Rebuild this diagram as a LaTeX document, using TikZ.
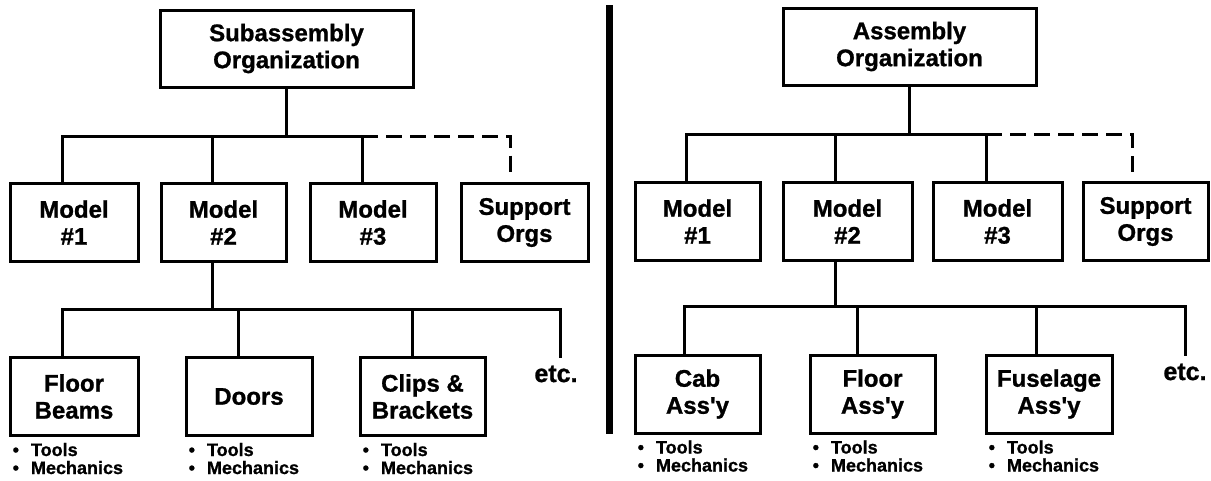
\documentclass[tikz,border=0pt]{standalone}
\usepackage{fontspec}
\setmainfont[BoldFeatures={FakeBold=1}]{Liberation Sans}
\newcommand\tmlist[1]{%
  \node[bul] (#1t) at ([xshift=4pt,yshift=-19pt]#1.south west) {•\hspace{12pt}Tools};
  \node[bul] (#1m) at ([xshift=4pt,yshift=-37pt]#1.south west) {•\hspace{12pt}Mechanics};}
\begin{document}
\begin{tikzpicture}[x=1pt,y=-1pt,
  box/.style={draw,line width=3pt,inner sep=0pt,align=center,minimum height=78pt,
    font=\bfseries\fontsize{24}{27}\selectfont},
  ln/.style={line width=3pt},
  dsh/.style={line width=3pt,dash pattern=on 16pt off 8pt},
  bul/.style={anchor=base west,inner sep=0pt,font=\bfseries\fontsize{18}{19}\selectfont},
  etcs/.style={inner sep=0pt,font=\bfseries\fontsize{25}{28}\selectfont}]
\useasboundingbox (0,0) rectangle (1211,480);
\fill[white] (0,0) rectangle (1211,480);

% divider
\fill[black] (606,5) rectangle (613,434);

% ---------------- left panel ----------------
\node[box,minimum width=253pt,minimum height=77pt] (topL) at (286.5,48.5) {Subassembly\\Organization};
\node[box,minimum width=128pt] (m1L) at (74,222.5) {Model\\\#1};
\node[box,minimum width=125pt] (m2L) at (223.5,222.5) {Model\\\#2};
\node[box,minimum width=126pt] (m3L) at (373,222.5) {Model\\\#3};
\node[box,minimum width=127pt] (sL) at (524.5,222.5) {Support\\Orgs};
\node[box,minimum width=128pt] (fbL) at (74,396.5) {Floor\\Beams};
\node[box,minimum width=126pt] (doL) at (249,396.5) {Doors};
\node[box,minimum width=125pt] (clL) at (422.5,396.5) {Clips \&\\Brackets};
\node[etcs] (etcL) at (556,374) {etc.};
\tmlist{fbL}
\tmlist{doL}
\tmlist{clL}

\coordinate (barL) at (0,136);
\coordinate (bar2L) at (0,309);
\coordinate (a1L) at ([xshift=-12pt]m1L.north);
\coordinate (a2L) at ([xshift=-11pt]m2L.north);
\coordinate (a3L) at ([xshift=-11pt]m3L.north);
\coordinate (a4L) at ([xshift=-14pt,yshift=9pt]sL.north);
\draw[ln] (topL.south) -- (topL.south |- barL);
\draw[ln] (a1L) -- (a1L |- barL) -- (a3L |- barL) -- (a3L);
\draw[ln] (a2L) -- (a2L |- barL);
\draw[dsh] (a3L |- barL) -- (a4L |- barL) -- (a4L);

\coordinate (c0L) at ([xshift=-11pt]m2L.south);
\coordinate (c1L) at ([xshift=-12pt]fbL.north);
\coordinate (c2L) at ([xshift=-11pt]doL.north);
\coordinate (c3L) at ([xshift=-10pt]clL.north);
\coordinate (c4L) at ([xshift=4pt,yshift=8pt]etcL.north);
\draw[ln] (c0L) -- (c0L |- bar2L);
\draw[ln] (c1L) -- (c1L |- bar2L) -- (c4L |- bar2L) -- (c4L);
\draw[ln] (c2L) -- (c2L |- bar2L);
\draw[ln] (c3L) -- (c3L |- bar2L);

% ---------------- right panel ----------------
\node[box,minimum width=253pt,minimum height=77pt] (topR) at (909.5,46.5) {Assembly\\Organization};
\node[box,minimum width=125pt] (m1R) at (697.5,221.5) {Model\\\#1};
\node[box,minimum width=129pt] (m2R) at (847.5,221.5) {Model\\\#2};
\node[box,minimum width=129pt] (m3R) at (997.5,221.5) {Model\\\#3};
\node[box,minimum width=125pt] (sR) at (1145.5,221.5) {Support\\Orgs};
\node[box,minimum width=125pt] (cabR) at (697.5,394) {Cab\\Ass\textquotesingle y};
\node[box,minimum width=125pt] (flR) at (872.5,394) {Floor\\Ass\textquotesingle y};
\node[box,minimum width=126pt] (fuR) at (1049,394) {Fuselage\\Ass\textquotesingle y};
\node[etcs] (etcR) at (1185,372) {etc.};
\tmlist{cabR}
\tmlist{flR}
\tmlist{fuR}

\coordinate (barR) at (0,134);
\coordinate (bar2R) at (0,306);
\coordinate (a1R) at ([xshift=-11.5pt]m1R.north);
\coordinate (a2R) at ([xshift=-12pt]m2R.north);
\coordinate (a3R) at ([xshift=-11.5pt]m3R.north);
\coordinate (a4R) at ([xshift=-13.5pt,yshift=9pt]sR.north);
\draw[ln] (topR.south) -- (topR.south |- barR);
\draw[ln] (a1R) -- (a1R |- barR) -- (a3R |- barR) -- (a3R);
\draw[ln] (a2R) -- (a2R |- barR);
\draw[dsh] (a3R |- barR) -- (a4R |- barR) -- (a4R);

\coordinate (c0R) at ([xshift=-12pt]m2R.south);
\coordinate (c1R) at ([xshift=-13pt]cabR.north);
\coordinate (c2R) at ([xshift=-15pt]flR.north);
\coordinate (c3R) at ([xshift=-13pt]fuR.north);
\coordinate (c4R) at ([yshift=8pt]etcR.north);
\draw[ln] (c0R) -- (c0R |- bar2R);
\draw[ln] (c1R) -- (c1R |- bar2R) -- (c4R |- bar2R) -- (c4R);
\draw[ln] (c2R) -- (c2R |- bar2R);
\draw[ln] (c3R) -- (c3R |- bar2R);
\end{tikzpicture}
\end{document}
